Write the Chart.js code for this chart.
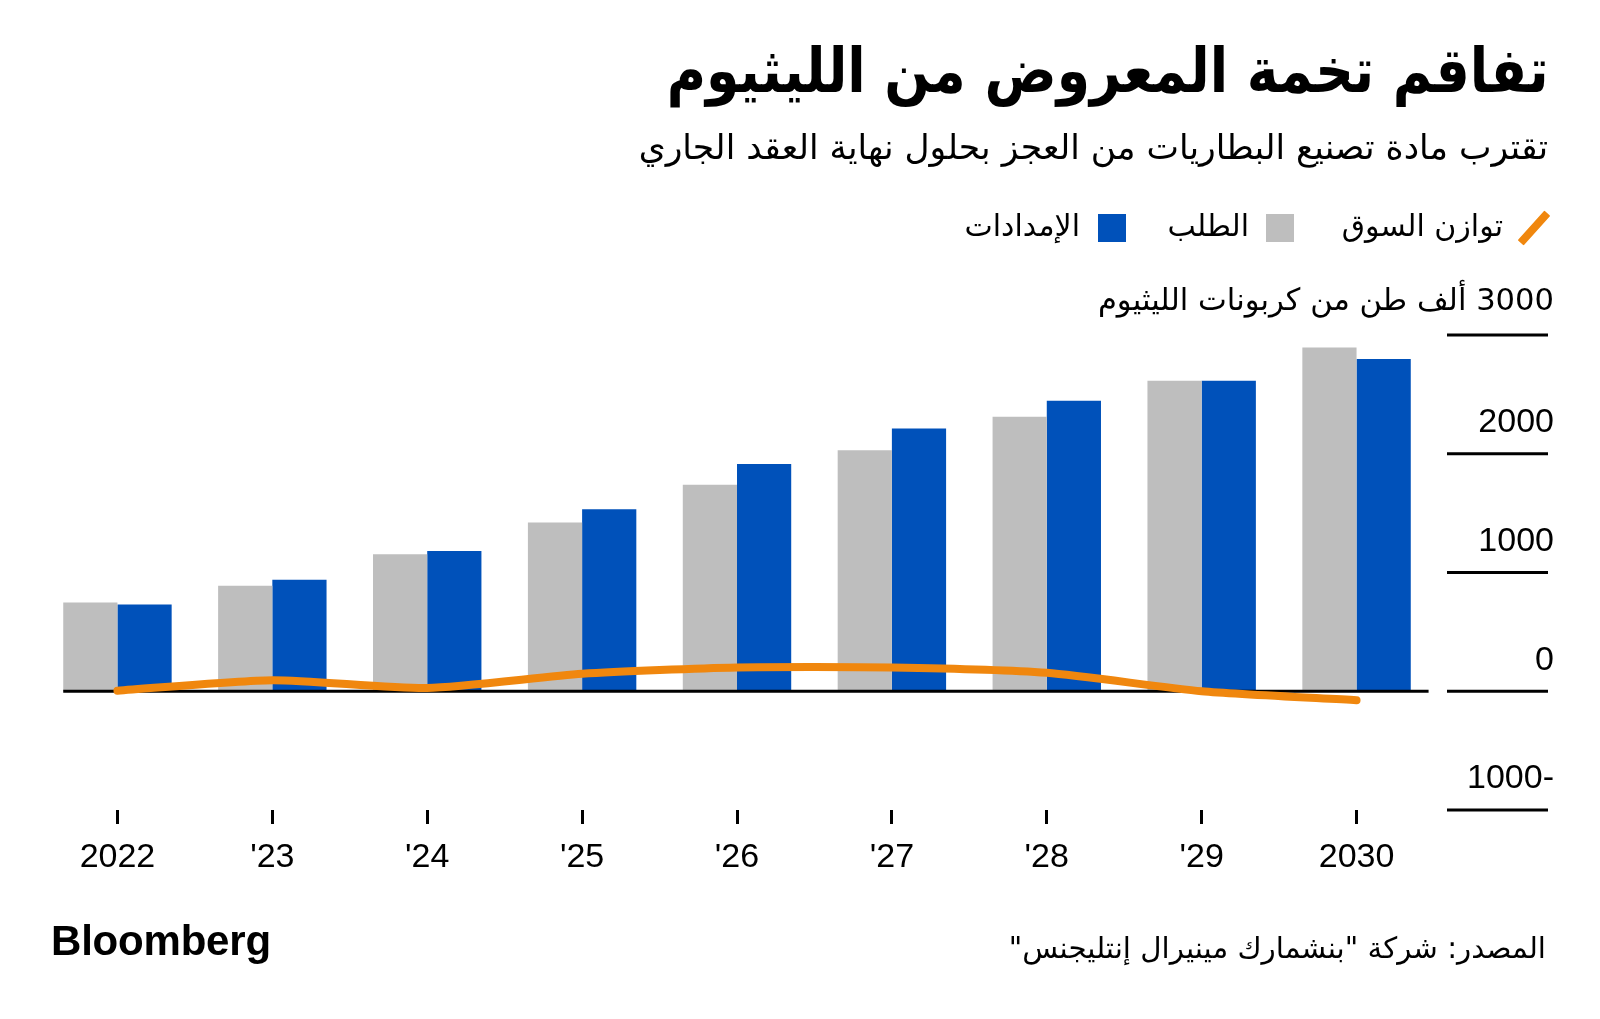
<!DOCTYPE html>
<html><head><meta charset="utf-8">
<script src="https://cdn.jsdelivr.net/npm/chart.js@4"></script>
<style>
html,body{margin:0;padding:0;background:#fff;width:1600px;height:1019px;overflow:hidden}
#wrap{position:relative;width:1600px;height:1019px}
#c{position:absolute;left:0;top:0}
.t{position:absolute;white-space:nowrap;direction:rtl;font-family:"DejaVu Sans",sans-serif;color:#000;line-height:1}
#title{right:51px;top:40px;font-size:62px;font-weight:bold;transform:scaleX(0.865);transform-origin:right center}
#subtitle{right:52px;top:130px;font-size:34.5px}
#source{right:54px;top:934px;font-size:29.3px}
#brand{position:absolute;left:51px;top:920px;font-family:"Liberation Sans",Arial,sans-serif;font-weight:bold;font-size:42px;letter-spacing:-0.2px;line-height:1}
.lg{position:absolute;font-family:"DejaVu Sans",sans-serif;font-size:30px;direction:rtl;white-space:nowrap;line-height:1}
.sw{position:absolute;width:28px;height:28px}
</style></head>
<body><div id="wrap">
<canvas id="c" width="1600" height="1019"></canvas>
<div class="t" id="title">تفاقم تخمة المعروض من الليثيوم</div>
<div class="t" id="subtitle">تقترب مادة تصنيع البطاريات من العجز بحلول نهاية العقد الجاري</div>
<div id="legend"></div>
<div id="brand">Bloomberg</div>
<div class="t" id="source">المصدر: شركة "بنشمارك مينيرال إنتليجنس"</div>
</div>
<script>
const years = ['2022', "'23", "'24", "'25", "'26", "'27", "'28", "'29", '2030'];
const demand = [747, 888, 1154, 1421, 1739, 2030, 2312, 2614, 2895];
const supply = [730, 938, 1182, 1533, 1913, 2213, 2446, 2614, 2797];
const balance = [5, 93, 28, 147, 200, 200, 155, 0, -75];
const yTickValues = [-1000, 0, 1000, 2000, 3000];
const yTickLabels = ['1000-', '0', '1000', '2000', '3000'];
const unitLabel = 'ألف طن من كربونات الليثيوم';
const seriesNames = { balance: 'توازن السوق', demand: 'الطلب', supply: 'الإمدادات' };

const COL = { demand: '#BEBEBE', supply: '#0051BA', balance: '#F0870E' };

// legend (RTL, positioned like the reference)
const lg = document.getElementById('legend');
function addText(txt, right, cy) {
  const d = document.createElement('div'); d.className = 'lg'; d.textContent = txt;
  d.style.right = (1600 - right) + 'px'; d.style.top = (cy - 17) + 'px'; lg.appendChild(d);
}
function addSwatch(left, color) {
  const s = document.createElement('div'); s.className = 'sw'; s.style.left = left + 'px'; s.style.top = '214px'; s.style.background = color; lg.appendChild(s);
}
const slash = document.createElement('div');
slash.style.cssText = 'position:absolute;left:1514px;top:224px;width:40px;height:8px;border-radius:1px;transform:rotate(-48deg);background:' + COL.balance;
lg.appendChild(slash);
addText(seriesNames.balance, 1503, 228);
addSwatch(1266, COL.demand);
addText(seriesNames.demand, 1249, 228);
addSwatch(1098, COL.supply);
addText(seriesNames.supply, 1080, 228);

const rightAxis = {
  id: 'rightAxis',
  beforeDatasetDraw(chart, args) {
    if (args.meta.type !== 'line') return;
    const ctx = chart.ctx, y = chart.scales.y, x = chart.scales.x;
    const catW = (chart.chartArea.right - chart.chartArea.left) / years.length;
    const py = y.getPixelForValue(0);
    ctx.save();
    ctx.strokeStyle = '#000'; ctx.lineWidth = 3;
    ctx.beginPath();
    ctx.moveTo(x.getPixelForTick(0) - catW * 0.35, py);
    ctx.lineTo(x.getPixelForTick(years.length - 1) + catW * 0.465, py);
    ctx.stroke();
    ctx.restore();
  },
  afterDraw(chart) {
    const ctx = chart.ctx, y = chart.scales.y;
    ctx.save();
    yTickValues.forEach((v, i) => {
      const py = y.getPixelForValue(v);
      ctx.strokeStyle = '#000'; ctx.lineWidth = 3;
      ctx.beginPath(); ctx.moveTo(1447, py); ctx.lineTo(1548, py); ctx.stroke();
      ctx.fillStyle = '#000'; ctx.textBaseline = 'middle';
      if (v === 3000) {
        ctx.direction = 'rtl'; ctx.textAlign = 'right';
        ctx.font = '30.6px "DejaVu Sans"';
        ctx.fillText(yTickLabels[i] + ' ' + unitLabel, 1554, py - 33);
        ctx.direction = 'ltr';
      } else {
        ctx.textAlign = 'right';
        ctx.font = '34px "Liberation Sans", Arial, sans-serif';
        ctx.fillText(yTickLabels[i], 1554, py - 31);
      }
    });
    ctx.restore();
  }
};

new Chart(document.getElementById('c'), {
  data: {
    labels: years,
    datasets: [
      { type: 'line', label: seriesNames.balance, data: balance, borderColor: COL.balance, borderWidth: 8,
        pointRadius: 0, tension: 0.22, borderCapStyle: 'round', borderJoinStyle: 'round', order: 0 },
      { type: 'bar', label: seriesNames.demand, data: demand, backgroundColor: COL.demand, order: 1,
        barPercentage: 1, categoryPercentage: 0.7 },
      { type: 'bar', label: seriesNames.supply, data: supply, backgroundColor: COL.supply, order: 1,
        barPercentage: 1, categoryPercentage: 0.7 }
    ]
  },
  options: {
    responsive: false, animation: false, devicePixelRatio: 1,
    layout: { padding: { left: 40, right: 166, top: 335, bottom: 129 } },
    plugins: { legend: { display: false }, tooltip: { enabled: false } },
    scales: {
      x: {
        grid: { display: true, drawOnChartArea: false, offset: false, tickLength: 14, tickWidth: 3, tickColor: '#000' },
        border: { display: false },
        ticks: { color: '#000', font: { family: '"Liberation Sans", Arial, sans-serif', size: 34 }, padding: 13, maxRotation: 0, autoSkip: false },
        afterFit(s) { s.height = 80; }
      },
      y: { display: false, min: -1000, max: 3000 }
    }
  },
  plugins: [rightAxis]
});
</script>
</body></html>
